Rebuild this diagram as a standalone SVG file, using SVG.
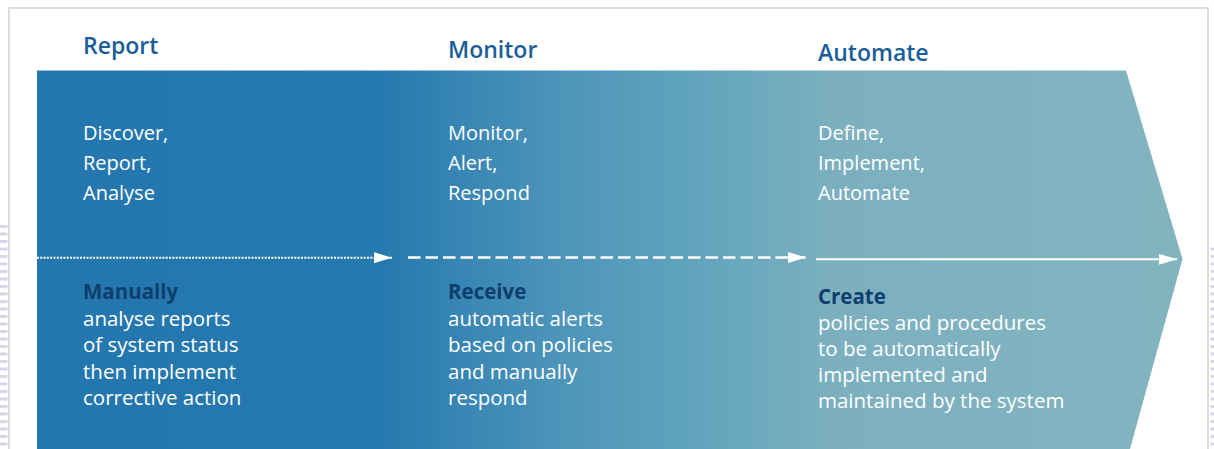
<svg xmlns="http://www.w3.org/2000/svg" width="1214" height="449" viewBox="0 0 1214 449">
<style>
.h{font-family:"Open Sans","Liberation Sans",sans-serif;font-weight:600;font-size:23px;fill:#1a5e98}
.t{font-family:"Open Sans","Liberation Sans",sans-serif;font-size:20px;fill:#ffffff}
.b{font-family:"Open Sans","Liberation Sans",sans-serif;font-size:20.5px;fill:#ffffff}
.k{font-weight:700;fill:#0e3e6e}
.ln{fill:none;stroke:#ffffff}
</style>
<defs>
<linearGradient id="g" gradientUnits="userSpaceOnUse" x1="37" y1="0" x2="1183" y2="0">
<stop offset="0" stop-color="#2477ae"/>
<stop offset="0.3" stop-color="#2679af"/>
<stop offset="0.45" stop-color="#4b94b9"/>
<stop offset="0.6" stop-color="#66a7bd"/>
<stop offset="0.7" stop-color="#7db0bf"/>
<stop offset="1" stop-color="#82b4c0"/>
</linearGradient>
<pattern id="st" patternUnits="userSpaceOnUse" x="0" y="0" width="8" height="7.5">
<rect x="0" y="0" width="8" height="3" fill="#d3d6ea"/>
</pattern>
<marker id="ah" markerWidth="18" markerHeight="11" refX="18" refY="5.5" orient="auto" markerUnits="userSpaceOnUse">
<path d="M0,0 L18,5.5 L0,11 Z" fill="#ffffff"/>
</marker>
</defs>
<rect x="0" y="0" width="1214" height="449" fill="#ffffff"/>
<rect x="0" y="225" width="7.5" height="224" fill="url(#st)"/>
<rect x="1210.5" y="245" width="4" height="204" fill="url(#st)"/>
<rect x="9" y="8" width="1199" height="460" fill="none" stroke="#dcdcdc" stroke-width="2"/>

<g id="band">
<path d="M37,70.5 L1126,70.5 L1182.5,259 L1130,449 L37,449 Z" fill="url(#g)"/>
</g>

<g id="report">
<text class="h" x="83" y="54">Report</text>
<text class="t" x="83" y="140">Discover,</text>
<text class="t" x="83" y="170">Report,</text>
<text class="t" x="83" y="200">Analyse</text>
<text class="b k" x="83" y="299">Manually</text>
<text class="b" x="83" y="326">analyse reports</text>
<text class="b" x="83" y="352">of system status</text>
<text class="b" x="83" y="379">then implement</text>
<text class="b" x="83" y="405">corrective action</text>
</g>

<g id="monitor">
<text class="h" x="448" y="58">Monitor</text>
<text class="t" x="448" y="140">Monitor,</text>
<text class="t" x="448" y="170">Alert,</text>
<text class="t" x="448" y="200">Respond</text>
<text class="b k" x="448" y="299">Receive</text>
<text class="b" x="448" y="326">automatic alerts</text>
<text class="b" x="448" y="352">based on policies</text>
<text class="b" x="448" y="379">and manually</text>
<text class="b" x="448" y="405">respond</text>
</g>

<g id="automate">
<text class="h" x="818" y="61">Automate</text>
<text class="t" x="818" y="140">Define,</text>
<text class="t" x="818" y="170">Implement,</text>
<text class="t" x="818" y="200">Automate</text>
<text class="b k" x="818" y="304">Create</text>
<text class="b" x="818" y="330">policies and procedures</text>
<text class="b" x="818" y="356">to be automatically</text>
<text class="b" x="818" y="382">implemented and</text>
<text class="b" x="818" y="408">maintained by the system</text>
</g>

<g id="connectors">
<line class="ln" x1="37" y1="257.7" x2="392" y2="257.7" stroke-width="2" stroke-dasharray="2 1.3" marker-end="url(#ah)"/>
<line class="ln" x1="408" y1="257.5" x2="806" y2="257.5" stroke-width="2.5" stroke-dasharray="12.5 5" marker-end="url(#ah)"/>
<line class="ln" x1="816" y1="259.3" x2="1177" y2="259.3" stroke-width="2" marker-end="url(#ah)"/>
</g>
</svg>
